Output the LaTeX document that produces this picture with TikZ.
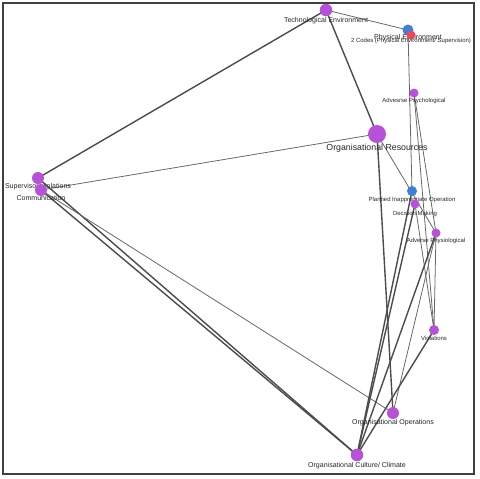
\documentclass[tikz,border=0pt]{standalone}
\usepackage{fontspec}
\setmainfont{Liberation Sans}
\usetikzlibrary{backgrounds}
\definecolor{codepurple}{RGB}{182,82,214}
\definecolor{codeblue}{RGB}{62,128,214}
\definecolor{codered}{RGB}{234,72,96}
\tikzset{
  code/.style={circle, fill=codepurple, inner sep=0pt, minimum size=2mm, label distance=0pt},
  bluecode/.style={code, fill=codeblue},
  redcode/.style={code, fill=codered},
  lbl/.style={font=\fontsize{3.4}{4}\selectfont, inner sep=0pt, text=black!85},
  lblmid/.style={font=\fontsize{4}{5}\selectfont, inner sep=0pt, text=black!85},
  lblbig/.style={font=\fontsize{5}{6}\selectfont, inner sep=0pt, text=black!85},
  heavy/.style={line width=0.8pt, black!70},
  light/.style={line width=0.45pt, black!60},
  frame/.style={line width=1.1pt, black!75}
}

\begin{document}
\begin{tikzpicture}[x=0.02cm, y=-0.02cm]
  \useasboundingbox (0,0) rectangle (480,478);
  \draw[frame] (3,3) rectangle (474,474);

  \node[code, minimum size=2.5mm, label={[lblmid]below:Technological Environment}] (tech) at (326,10) {};
  \node[bluecode, minimum size=2.2mm, label={[lblmid, yshift=1pt]below:Physical Environment}] (phys) at (408,30) {};
  \node[redcode, minimum size=1.8mm, label={[lbl, yshift=1pt]below:2 Codes (Physical Environment/ Supervision)}] (codes) at (411,35) {};
  \node[code, minimum size=1.8mm, label={[lbl]below:Advesrse Psychological}] (advpsy) at (414,93) {};
  \node[code, minimum size=3.6mm, label={[lblbig]below:Organisational Resources}] (orgres) at (377,134) {};
  \node[code, minimum size=2.4mm, label={[lblmid, yshift=1pt]below:Supervisor Violations}] (supv) at (38,178) {};
  \node[code, minimum size=2.4mm, label={[lblmid, yshift=1pt]below:Communication}] (comm) at (41,190) {};
  \node[bluecode, label={[lbl]below:Planned Inappropriate Operation}] (planned) at (412,191) {};
  \node[code, minimum size=1.8mm, label={[lbl, yshift=-1pt]below:Decision Making}] (decision) at (415,204) {};
  \node[code, minimum size=1.8mm, label={[lbl]below:Adverse Physiological}] (advphys) at (436,233) {};
  \node[code, label={[lbl]below:Violations}] (viol) at (434,330) {};
  \node[code, minimum size=2.4mm, label={[lblmid]below:Organisational Operations}] (orgops) at (393,413) {};
  \node[code, minimum size=2.5mm, label={[lblmid]below:Organisational Culture/ Climate}] (culture) at (357,455) {};

  \begin{scope}[on background layer]
    \draw[heavy] (tech.center) -- (supv.center);
    \draw[light] (tech.center) -- (phys.center);
    \draw[heavy] (tech.center) -- (orgres.center);
    \draw[light] (orgres.center) -- (comm.center);
    \draw[light] (orgres.center) -- (advphys.center);
    \draw[heavy] (orgres.center) -- (orgops.center);
    \draw[light] (phys.center) -- (planned.center);
    \draw[light] (advpsy.center) -- (advphys.center);
    \draw[light] (advpsy.center) -- (viol.center);
    \draw[heavy] (supv.center) -- (culture.center);
    \draw[heavy] (comm.center) -- (culture.center);
    \draw[light] (comm.center) -- (orgops.center);
    \draw[heavy] (planned.center) -- (culture.center);
    \draw[heavy] (decision.center) -- (culture.center);
    \draw[light] (decision.center) -- (viol.center);
    \draw[heavy] (advphys.center) -- (culture.center);
    \draw[light] (advphys.center) -- (orgops.center);
    \draw[light] (advphys.center) -- (viol.center);
    \draw[heavy] (viol.center) -- (culture.center);
  \end{scope}
\end{tikzpicture}
\end{document}
